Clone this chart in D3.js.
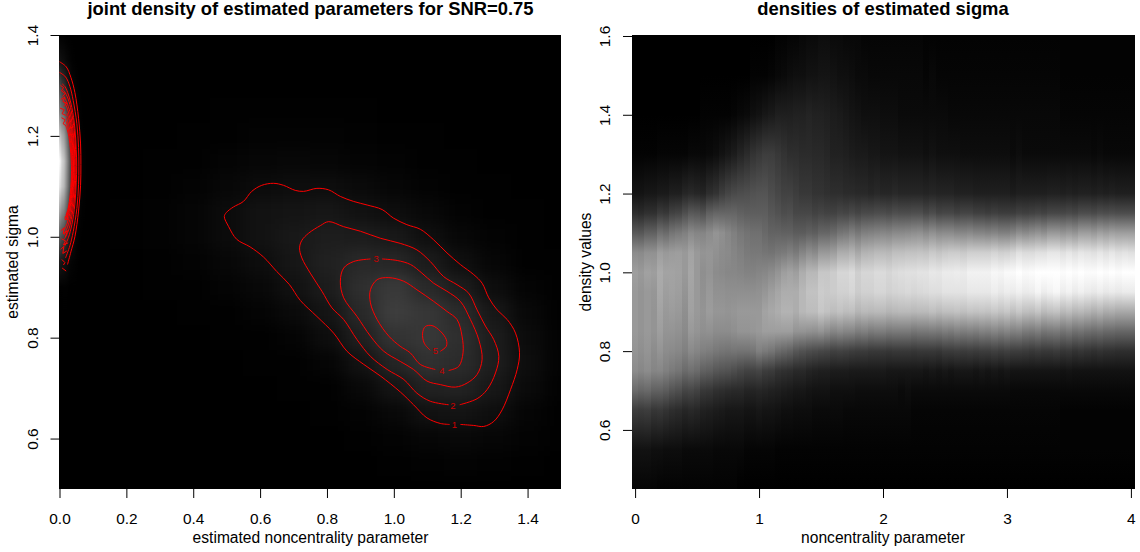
<!DOCTYPE html>
<html>
<head>
<meta charset="utf-8">
<script src="https://cdn.jsdelivr.net/npm/d3@7"></script>
<style>
  html, body { margin: 0; padding: 0; background: #fff; }
  svg { display: block; }
  text { font-family: "Liberation Sans", Arial, sans-serif; fill: #000; }
  .tick line { stroke: #000; stroke-width: 1; }
  .tick text { font-size: 15.4px; }
  .axis-title { font-size: 15.6px; }
  .title { font-size: 18.4px; font-weight: bold; }
</style>
</head>
<body>
<svg width="1140" height="552"></svg>
<script>
// joint density, main blob (rows = sigma, columns = noncentrality)
const jointX = [0, 0.1, 0.2, 0.3, 0.4, 0.5, 0.6, 0.7, 0.8, 0.9, 1.0, 1.1, 1.2, 1.3, 1.4, 1.5];
const jointSigma = [1.25, 1.2, 1.15, 1.1, 1.05, 1.0, 0.95, 0.9, 0.85, 0.8, 0.75, 0.7, 0.65, 0.6, 0.55];
const jointDensity = [
  [0, 0, 0, 0, 0, 0.05, 0.1, 0.1, 0.1, 0.05, 0, 0, 0, 0, 0, 0],
  [0, 0, 0, 0, 0.05, 0.1, 0.2, 0.25, 0.2, 0.15, 0.1, 0.05, 0, 0, 0, 0],
  [0, 0, 0, 0.05, 0.1, 0.3, 0.45, 0.55, 0.5, 0.35, 0.2, 0.1, 0.05, 0, 0, 0],
  [0, 0, 0, 0.1, 0.25, 0.55, 0.9, 1.05, 1.0, 0.8, 0.5, 0.25, 0.1, 0.05, 0, 0],
  [0, 0, 0.05, 0.15, 0.4, 0.9, 1.4, 1.6, 1.7, 1.35, 1.05, 0.6, 0.25, 0.1, 0.05, 0],
  [0, 0, 0.05, 0.15, 0.4, 0.9, 1.4, 1.85, 2.3, 2.2, 1.9, 1.15, 0.55, 0.2, 0.05, 0],
  [0, 0, 0, 0.1, 0.25, 0.55, 1.05, 1.7, 2.5, 3.1, 3.0, 2.1, 1.2, 0.45, 0.1, 0.05],
  [0, 0, 0, 0.05, 0.1, 0.3, 0.6, 1.3, 2.2, 3.6, 4.5, 3.2, 2.2, 1.0, 0.3, 0.05],
  [0, 0, 0, 0, 0.05, 0.1, 0.3, 0.75, 1.6, 3.1, 4.8, 4.2, 3.3, 1.8, 0.6, 0.1],
  [0, 0, 0, 0, 0, 0.05, 0.1, 0.3, 1.0, 2.4, 3.9, 4.3, 3.6, 2.2, 0.85, 0.2],
  [0, 0, 0, 0, 0, 0, 0.05, 0.1, 0.4, 1.4, 2.8, 3.8, 3.4, 2.3, 1.0, 0.2],
  [0, 0, 0, 0, 0, 0, 0, 0.05, 0.1, 0.6, 1.6, 2.6, 2.7, 1.8, 0.8, 0.15],
  [0, 0, 0, 0, 0, 0, 0, 0, 0.05, 0.2, 0.6, 1.3, 1.5, 1.1, 0.4, 0.1],
  [0, 0, 0, 0, 0, 0, 0, 0, 0, 0.05, 0.2, 0.5, 0.6, 0.45, 0.2, 0.05],
  [0, 0, 0, 0, 0, 0, 0, 0, 0, 0, 0.05, 0.15, 0.2, 0.15, 0.05, 0]
];

// joint density, narrow spike along noncentrality = 0
const spikeX = [0, 0.01, 0.02, 0.03, 0.04, 0.05, 0.06, 0.07, 0.08];
const spikeSigma = [0.85, 0.9, 0.95, 1.0, 1.05, 1.1, 1.15, 1.2, 1.25, 1.3, 1.35, 1.4];
const spikeDensity = [
  [0, 0.1, 2, 7, 13, 18, 20, 16, 10, 6, 1.5, 0.1],
  [0, 0.1, 1.5, 5.5, 10.5, 15, 16, 13, 8, 4, 1, 0.05],
  [0, 0.05, 1, 3.8, 7.5, 11, 12, 9.5, 5.5, 2.4, 0.6, 0],
  [0, 0, 0.5, 2.2, 4.5, 6.8, 7.5, 5.8, 3.2, 1.2, 0.3, 0],
  [0, 0, 0.2, 1, 2.2, 3.5, 3.8, 2.9, 1.5, 0.5, 0.1, 0],
  [0, 0, 0.05, 0.35, 0.8, 1.4, 1.6, 1.2, 0.5, 0.15, 0, 0],
  [0, 0, 0, 0.1, 0.3, 0.5, 0.6, 0.4, 0.15, 0.03, 0, 0],
  [0, 0, 0, 0.02, 0.08, 0.12, 0.15, 0.1, 0.03, 0, 0, 0],
  [0, 0, 0, 0, 0, 0, 0, 0, 0, 0, 0, 0]
];

// contour lines, [noncentrality, sigma]; labelled ones open at the label
const contour1 = [[1.199,.628],[1.239,.626],[1.269,.624],[1.299,.634],[1.324,.657],[1.349,.697],[1.369,.737],[1.376,.770],[1.364,.809],[1.339,.836],[1.309,.855],[1.284,.879],[1.264,.908],[1.239,.925],[1.199,.945],[1.159,.968],[1.119,.994],[1.079,1.015],[1.039,1.024],[.999,1.037],[.965,1.054],[.920,1.063],[.880,1.070],[.840,1.080],[.805,1.093],[.770,1.096],[.730,1.090],[.705,1.092],[.670,1.102],[.640,1.106],[.605,1.102],[.575,1.090],[.550,1.070],[.520,1.059],[.499,1.048],[.493,1.040],[.506,1.020],[.530,.995],[.570,.980],[.610,.960],[.650,.931],[.688,.905],[.720,.874],[.770,.842],[.820,.809],[.860,.773],[.910,.747],[.960,.724],[1.020,.692],[1.059,.667],[1.099,.641],[1.139,.630],[1.167,.628]];
const contour2 = [[1.197,.667],[1.249,.679],[1.279,.697],[1.304,.730],[1.314,.763],[1.299,.796],[1.274,.823],[1.249,.855],[1.224,.888],[1.189,.905],[1.149,.921],[1.109,.951],[1.069,.974],[1.019,.987],[.960,.997],[.900,1.011],[.850,1.020],[.805,1.030],[.780,1.022],[.745,1.007],[.725,.993],[.718,.978],[.725,.958],[.750,.928],[.785,.892],[.815,.859],[.850,.836],[.890,.796],[.930,.763],[.980,.737],[1.030,.717],[1.069,.690],[1.109,.674],[1.164,.667]];
const contour3 = [[.965,.956],[1.010,.953],[1.050,.945],[1.084,.928],[1.119,.908],[1.159,.892],[1.199,.872],[1.229,.836],[1.254,.796],[1.264,.757],[1.249,.727],[1.219,.710],[1.184,.702],[1.139,.707],[1.099,.714],[1.059,.737],[1.019,.753],[.970,.773],[.930,.803],[.890,.842],[.850,.879],[.840,.912],[.850,.938],[.880,.951],[.930,.956]];
const contour4 = [[1.164,.735],[1.194,.743],[1.207,.770],[1.204,.803],[1.189,.836],[1.159,.852],[1.119,.872],[1.069,.895],[1.029,.912],[.985,.919],[.950,.915],[.930,.895],[.930,.869],[.950,.836],[.985,.803],[1.019,.783],[1.049,.770],[1.079,.747],[1.124,.737]];
const contour5 = [[1.139,.773],[1.157,.783],[1.157,.796],[1.139,.813],[1.114,.824],[1.094,.822],[1.086,.809],[1.091,.789],[1.109,.775]];
const spikeContours = [
  [[0,1.347],[.020,1.337],[.034,1.316],[.046,1.286],[.057,1.235],[.063,1.184],[.064,1.143],[.063,1.102],[.057,1.051],[.046,1.0],[.034,.970],[.024,.945]],
  [[0,1.326],[.018,1.317],[.031,1.298],[.041,1.270],[.052,1.224],[.057,1.177],[.058,1.14],[.057,1.103],[.052,1.056],[.041,1.010],[.031,.982],[.018,.958]],
  [[.008,1.303],[.016,1.298],[.027,1.281],[.037,1.256],[.046,1.215],[.050,1.173],[.0515,1.14],[.050,1.107],[.046,1.065],[.037,1.024],[.027,.999],[.016,.982]],
  [[.012,1.29],[.015,1.288],[.026,1.273],[.035,1.25],[.044,1.211],[.048,1.173],[.049,1.142],[.048,1.111],[.044,1.073],[.035,1.034],[.026,1.011],[.015,.996]],
  [[.014,1.278],[.024,1.263],[.033,1.242],[.041,1.206],[.045,1.170],[.046,1.141],[.045,1.112],[.041,1.076],[.033,1.04],[.024,1.019],[.014,1.004]],
  [[.014,1.268],[.023,1.255],[.031,1.235],[.039,1.201],[.043,1.168],[.044,1.141],[.043,1.114],[.039,1.081],[.031,1.047],[.023,1.027],[.014,1.014]],
  [[.022,1.246],[.030,1.228],[.037,1.196],[.041,1.165],[.042,1.14],[.041,1.115],[.037,1.084],[.030,1.053],[.022,1.034]],
  [[.021,1.237],[.028,1.22],[.036,1.19],[.039,1.161],[.040,1.137],[.039,1.113],[.036,1.084],[.028,1.054],[.021,1.037]],
  [[.020,1.229],[.027,1.212],[.034,1.184],[.037,1.156],[.038,1.134],[.037,1.112],[.034,1.084],[.027,1.056],[.020,1.039]],
  [[.019,1.220],[.026,1.205],[.032,1.178],[.035,1.152],[.036,1.131],[.035,1.110],[.032,1.084],[.026,1.057],[.019,1.042]]
];
// the broken, tangled contour ends next to noncentrality = 0
const spikeFragments = [
  [[.003,1.300],[.012,1.296],[.006,1.289],[.017,1.284],[.009,1.278]],
  [[.004,1.272],[.016,1.277],[.010,1.268],[.022,1.265],[.013,1.258]],
  [[.002,1.255],[.014,1.252],[.008,1.244],[.021,1.240]],
  [[.006,1.236],[.017,1.232],[.011,1.224],[.020,1.220]],
  [[.004,1.012],[.014,1.018],[.011,1.006],[.024,1.012],[.018,1.000]],
  [[.006,.996],[.018,.992],[.012,.984],[.026,.988]],
  [[.004,.975],[.013,.981],[.010,.967],[.022,.972]],
  [[.007,.955],[.016,.949],[.012,.944]],
  [[.008,.938],[.020,.932]],
  [[.017,1.040],[.024,1.040],[.024,1.034],[.017,1.034],[.017,1.040]]
];
const contourLabels = ["1", "2", "3", "4", "5"];
const contourLabelX = [1.181, 1.177, 0.947, 1.144, 1.124];
const contourLabelSigma = [0.628, 0.665, 0.956, 0.735, 0.774];

// right panel: one column per noncentrality value, grey percent at each sigma level
const sigmaLevels = [0.45, 0.55, 0.65, 0.7, 0.75, 0.8, 0.85, 0.9, 0.95, 1.0, 1.05, 1.1, 1.15, 1.2, 1.3, 1.4, 1.5, 1.6];
const ncpColumns = [
  [2,7,24,42,55,58,60,60,60,62,55,35,18,8,1,0,0,0],
  [2,7,23,40,53,56,58,58,58,60,54,34,17,8,1,0,0,0],
  [2,7,24,41,55,58,60,60,60,63,57,38,19,9,1,0,0,0],
  [2,6,21,38,52,55,58,58,59,62,57,38,19,9,1,0,0,0],
  [1,6,22,38,53,58,62,64,66,67,62,44,23,10,2,0,0,0],
  [1,5,20,36,50,55,58,60,62,64,60,42,22,10,2,0,0,0],
  [1,5,18,33,48,54,58,61,63,64,61,46,26,12,2,0,0,0],
  [1,5,17,31,46,53,57,60,62,63,62,48,27,12,2,0,0,0],
  [1,4,15,27,42,50,54,56,58,60,60,50,31,15,2,0,0,0],
  [1,4,16,28,44,54,60,63,64,65,64,54,35,16,3,0,0,0],
  [1,4,15,26,42,52,58,60,60,60,60,52,34,15,3,0,0,0],
  [1,4,13,22,38,50,56,58,57,56,58,52,32,14,3,1,0,0],
  [1,4,12,21,37,49,57,61,60,58,59,55,38,18,4,1,0,0],
  [1,3,11,19,34,47,55,59,57,55,57,58,40,20,5,1,0,0],
  [1,3,10,18,33,46,55,59,57,54,55,56,40,24,7,1,0,0],
  [1,3,9,17,32,45,55,58,56,53,54,53,40,27,9,1,0,0],
  [1,3,9,16,30,46,56,59,56,53,52,50,40,29,11,2,0,0],
  [0,3,9,16,28,45,58,60,56,52,50,47,38,30,14,3,0,0],
  [0,2,8,14,26,45,58,60,56,51,48,45,37,31,17,4,0,0],
  [0,2,8,14,26,46,59,60,56,51,47,44,37,32,20,6,1,0],
  [0,2,9,15,27,50,60,60,57,52,47,44,37,33,22,7,1,0],
  [0,2,8,14,24,48,62,64,59,53,46,41,37,33,24,9,1,0],
  [0,2,8,13,23,46,62,66,62,55,45,39,34,30,24,10,2,0],
  [0,1,7,12,20,42,62,68,65,58,47,39,32,28,22,12,3,1],
  [0,1,6,11,19,40,62,70,68,62,48,38,30,26,20,12,4,1],
  [0,1,6,10,18,38,62,70,68,64,50,38,31,26,18,12,5,2],
  [0,1,5,9,16,34,58,68,68,62,48,36,28,24,18,13,6,2],
  [0,1,5,9,16,32,58,72,72,68,52,36,28,22,17,13,6,3],
  [0,1,5,8,14,30,57,74,76,72,56,38,28,22,17,14,7,4],
  [0,1,4,7,13,29,56,74,76,72,54,37,26,20,16,13,7,4],
  [0,1,4,7,12,28,58,78,80,78,60,40,27,20,16,13,8,5],
  [0,1,4,7,12,27,55,76,79,78,60,40,26,19,15,12,8,5],
  [0,1,4,6,11,25,52,74,80,80,62,42,26,18,13,11,7,4],
  [0,1,4,6,11,26,54,76,82,84,68,46,28,18,13,10,6,4],
  [0,1,3,6,11,25,52,74,82,84,68,47,27,17,12,9,6,3],
  [0,1,3,6,10,24,52,75,84,86,70,50,29,17,11,8,5,3],
  [0,1,3,5,10,23,49,71,80,81,66,47,27,16,10,7,4,3],
  [0,1,3,5,10,23,50,73,82,84,70,50,29,16,10,6,4,2],
  [0,1,3,5,10,22,48,72,82,84,71,51,29,15,9,6,3,2],
  [0,1,3,5,10,22,49,73,84,86,73,52,30,16,9,6,3,2],
  [0,1,3,5,10,22,49,73,84,86,73,53,30,15,8,5,3,2],
  [0,1,3,5,9,21,47,71,82,84,72,52,29,15,8,5,3,2],
  [0,1,3,5,9,22,48,72,83,86,75,54,31,16,8,5,3,2],
  [0,1,3,4,9,22,48,73,84,87,75,54,30,15,7,4,3,2],
  [0,1,3,5,9,22,48,73,85,88,76,55,30,15,7,4,3,2],
  [0,1,2,4,9,21,46,72,84,88,76,56,31,15,7,4,3,2],
  [0,1,2,4,9,22,47,73,85,89,77,57,31,15,7,4,3,2],
  [0,1,2,4,8,22,47,73,86,89,76,54,28,14,6,4,2,1],
  [0,1,2,4,9,22,48,75,87,91,79,57,30,15,7,4,3,1],
  [0,1,2,4,8,21,47,73,87,90,77,54,27,14,6,4,2,1],
  [0,1,2,4,9,23,49,75,89,92,79,55,28,14,6,4,2,1],
  [0,1,2,4,8,23,48,75,89,92,80,55,28,14,6,3,2,1],
  [0,1,2,4,9,24,50,76,89,93,80,53,26,13,6,3,2,1],
  [0,1,2,4,9,23,49,75,89,92,79,53,27,13,5,3,2,1],
  [0,1,2,4,9,24,50,77,91,95,81,54,27,13,5,3,2,1],
  [0,1,2,4,8,23,49,76,91,95,81,52,25,12,5,3,2,1],
  [0,1,2,4,9,24,51,77,91,95,81,52,25,12,5,3,2,1],
  [0,1,2,4,8,24,50,76,91,95,81,51,24,12,5,3,2,1],
  [0,1,2,4,9,25,52,78,93,97,83,52,25,12,5,3,2,1],
  [0,1,2,4,8,24,50,76,91,96,81,50,24,12,5,3,2,1],
  [0,1,2,4,9,25,52,78,93,98,82,50,24,12,5,3,2,1],
  [0,1,2,3,8,24,50,75,92,98,84,52,24,11,4,3,2,1],
  [0,1,2,3,8,24,51,78,94,100,88,56,26,12,5,3,2,1],
  [0,1,2,3,8,23,48,75,92,98,86,54,25,12,4,3,2,1],
  [0,1,2,3,8,22,47,74,93,99,86,56,26,12,4,3,2,1],
  [0,1,2,3,8,23,49,77,96,100,88,58,27,12,4,3,2,1],
  [0,1,2,3,8,22,46,73,93,100,88,56,26,12,4,3,2,1],
  [0,1,2,3,8,22,47,75,95,100,90,60,28,13,4,3,2,1],
  [0,1,2,3,8,23,48,76,97,100,90,60,28,13,4,3,2,1],
  [0,1,1,3,7,21,45,72,93,99,88,58,28,12,4,2,1,1],
  [0,1,1,3,8,22,47,74,95,100,90,60,29,13,4,2,1,1],
  [0,1,1,3,7,20,44,71,92,99,88,58,28,12,4,2,1,1],
  [0,1,1,3,7,21,45,72,94,100,90,62,30,13,4,2,1,1],
  [0,1,1,3,7,20,43,70,92,99,89,62,30,13,4,2,1,1],
  [0,1,1,3,7,19,42,68,91,99,88,60,29,12,3,2,1,1],
  [0,1,1,3,7,20,43,70,93,100,90,63,31,13,4,2,1,1],
  [0,1,1,3,7,19,41,67,91,99,88,61,30,12,3,2,1,1],
  [0,1,1,3,7,19,41,68,92,100,90,63,31,13,3,2,1,1],
  [0,1,1,3,7,18,40,66,91,99,88,62,30,12,3,2,1,1],
  [0,1,1,3,7,18,40,66,92,100,89,62,30,12,3,2,1,1],
  [0,1,1,3,7,18,40,66,92,100,88,62,30,12,3,2,1,1]
];
const ncpStep = 0.05;

const jointXTicks = [0, 0.2, 0.4, 0.6, 0.8, 1.0, 1.2, 1.4];
const jointYTicks = [0.6, 0.8, 1.0, 1.2, 1.4];
const ncpXTicks = [0, 1, 2, 3, 4];
const ncpYTicks = [0.6, 0.8, 1.0, 1.2, 1.4, 1.6];

const svg = d3.select("svg");
const defs = svg.append("defs");

// same scale for both density layers of the left image
const densityGrey = d3.scaleLinear().domain([0, 20]).range(["#000", "#fff"]).clamp(true);
const percentGrey = d3.scaleLinear().domain([0, 100]).range(["#000", "#fff"]).clamp(true);

const xJoint = d3.scaleLinear().domain([0, 1.5]).range([59.5, 561]);
const yJoint = d3.scaleLinear().domain([0.5, 1.4]).range([489, 35]);
const xNcp = d3.scaleLinear().domain([-0.025, 4.025]).range([632, 1134]);
const yNcp = d3.scaleLinear().domain([0.45, 1.6025]).range([489, 35]);

const addAxes = (props) => {
  const { xScale, yScale, xTicks, yTicks, xFormat, yFormat, leftAt } = props;
  const bottom = svg.append("g").attr("transform", "translate(0,489)")
    .call(d3.axisBottom(xScale).tickValues(xTicks).tickSize(9).tickPadding(15).tickFormat(xFormat));
  bottom.select(".domain").remove();
  const left = svg.append("g").attr("transform", `translate(${leftAt},0)`)
    .call(d3.axisLeft(yScale).tickValues(yTicks).tickSize(9).tickPadding(0).tickFormat(yFormat));
  left.select(".domain").remove();
  left.selectAll(".tick text")
    .attr("text-anchor", "middle")
    .attr("x", null).attr("dy", null)
    .attr("transform", "translate(-22,0) rotate(-90)");
};

const addLabels = (title, xLabel, yLabel, cx, cy, yLabelX) => {
  svg.append("text").attr("class", "title").attr("x", cx).attr("y", 15)
    .attr("text-anchor", "middle").text(title);
  svg.append("text").attr("class", "axis-title").attr("x", cx).attr("y", 543)
    .attr("text-anchor", "middle").text(xLabel);
  svg.append("text").attr("class", "axis-title")
    .attr("transform", `translate(${yLabelX},${cy}) rotate(-90)`)
    .attr("text-anchor", "middle").text(yLabel);
};

// vertical gradient through one column of values
const columnGradient = (id, levels, values, yScale, grey) => {
  const g = defs.append("linearGradient").attr("id", id)
    .attr("gradientUnits", "userSpaceOnUse")
    .attr("x1", 0).attr("x2", 0)
    .attr("y1", yScale(levels[0])).attr("y2", yScale(levels[levels.length - 1]));
  const span = levels[levels.length - 1] - levels[0];
  g.selectAll("stop").data(values).enter().append("stop")
    .attr("offset", (d, i) => (levels[i] - levels[0]) / span)
    .attr("stop-color", (d) => grey(d));
};

// LEFT PANEL
const jointLeft = Math.floor(xJoint(0));
defs.append("clipPath").attr("id", "clipJoint").append("rect")
  .attr("x", jointLeft).attr("y", yJoint(1.4))
  .attr("width", xJoint(1.5) - jointLeft).attr("height", yJoint(0.5) - yJoint(1.4));

const blobBlur = defs.append("filter").attr("id", "blobBlur")
  .attr("filterUnits", "userSpaceOnUse")
  .attr("x", 0).attr("y", 0).attr("width", 600).attr("height", 552)
  .attr("color-interpolation-filters", "sRGB");
blobBlur.append("feGaussianBlur").attr("stdDeviation", "9 7");

const spikeBlur = defs.append("filter").attr("id", "spikeBlur")
  .attr("filterUnits", "userSpaceOnUse")
  .attr("x", 0).attr("y", 0).attr("width", 200).attr("height", 552)
  .attr("color-interpolation-filters", "sRGB");
spikeBlur.append("feGaussianBlur").attr("stdDeviation", "1.2 0");

const joint = svg.append("g").attr("clip-path", "url(#clipJoint)");
joint.append("rect")
  .attr("x", jointLeft).attr("y", yJoint(1.4))
  .attr("width", xJoint(1.5) - jointLeft).attr("height", yJoint(0.5) - yJoint(1.4))
  .attr("fill", "#000");

const blobCells = jointDensity.flatMap((row, r) => row.map((v, c) => ({ x: jointX[c], s: jointSigma[r], v })));
joint.append("g").attr("filter", "url(#blobBlur)")
  .selectAll("rect").data(blobCells).enter().append("rect")
  .attr("x", (d) => xJoint(d.x - 0.05))
  .attr("y", (d) => yJoint(d.s + 0.025))
  .attr("width", xJoint(0.1) - xJoint(0))
  .attr("height", yJoint(0) - yJoint(0.05))
  .attr("shape-rendering", "crispEdges")
  .attr("fill", (d) => densityGrey(d.v));

spikeDensity.forEach((col, i) => columnGradient(`spike${i}`, spikeSigma, col, yJoint, densityGrey));
joint.append("g").attr("filter", "url(#spikeBlur)")
  .selectAll("rect").data(spikeX).enter().append("rect")
  // first column runs past the edge so the blur does not darken it
  .attr("x", (d, i) => (i === 0 ? xJoint(-0.05) : xJoint(d - 0.005)))
  .attr("y", yJoint(1.4))
  .attr("width", (d, i) => (i === 0 ? xJoint(0.055) - xJoint(0) : xJoint(0.01) - xJoint(0)))
  .attr("height", yJoint(0.85) - yJoint(1.4))
  .attr("shape-rendering", "crispEdges")
  .attr("fill", (d, i) => `url(#spike${i})`)
  .style("mix-blend-mode", "lighten");

const contourLine = d3.line()
  .x((d) => xJoint(d[0]))
  .y((d) => yJoint(d[1]))
  .curve(d3.curveCatmullRom.alpha(0.5));
const fragmentLine = d3.line()
  .x((d) => xJoint(d[0]))
  .y((d) => yJoint(d[1]));

joint.append("g").selectAll("path")
  .data([contour1, contour2, contour3, contour4, contour5].concat(spikeContours))
  .enter().append("path")
  .attr("d", contourLine)
  .attr("fill", "none")
  .attr("stroke", "#f00")
  .attr("stroke-width", 1);

joint.append("g").selectAll("path.fragment")
  .data(spikeFragments)
  .enter().append("path")
  .attr("class", "fragment")
  .attr("d", fragmentLine)
  .attr("fill", "none")
  .attr("stroke", "#f00")
  .attr("stroke-width", 1);

joint.append("g").selectAll("text").data(contourLabels).enter().append("text")
  .attr("x", (d, i) => xJoint(contourLabelX[i]))
  .attr("y", (d, i) => yJoint(contourLabelSigma[i]))
  .attr("text-anchor", "middle")
  .attr("dy", "0.35em")
  .style("font-size", "9.5px")
  .style("fill", "#cc0000")
  .text((d) => d);

addAxes({
  xScale: xJoint, yScale: yJoint, xTicks: jointXTicks, yTicks: jointYTicks,
  xFormat: d3.format(".1f"), yFormat: d3.format(".1f"), leftAt: 59.5
});
addLabels("joint density of estimated parameters for SNR=0.75",
  "estimated noncentrality parameter", "estimated sigma", 310.5, 262, 18);

// RIGHT PANEL
ncpColumns.forEach((col, i) => columnGradient(`ncp${i}`, sigmaLevels, col, yNcp, percentGrey));
svg.append("g").selectAll("rect").data(ncpColumns).enter().append("rect")
  .attr("x", (d, i) => xNcp(i * ncpStep - ncpStep / 2))
  .attr("y", yNcp(1.6025))
  .attr("width", xNcp(ncpStep) - xNcp(0) + 0.5)
  .attr("height", yNcp(0.45) - yNcp(1.6025))
  .attr("shape-rendering", "crispEdges")
  .attr("fill", (d, i) => `url(#ncp${i})`);

addAxes({
  xScale: xNcp, yScale: yNcp, xTicks: ncpXTicks, yTicks: ncpYTicks,
  xFormat: d3.format("d"), yFormat: d3.format(".1f"), leftAt: 632
});
addLabels("densities of estimated sigma", "noncentrality parameter", "density values", 883, 262, 591);
</script>
</body>
</html>
